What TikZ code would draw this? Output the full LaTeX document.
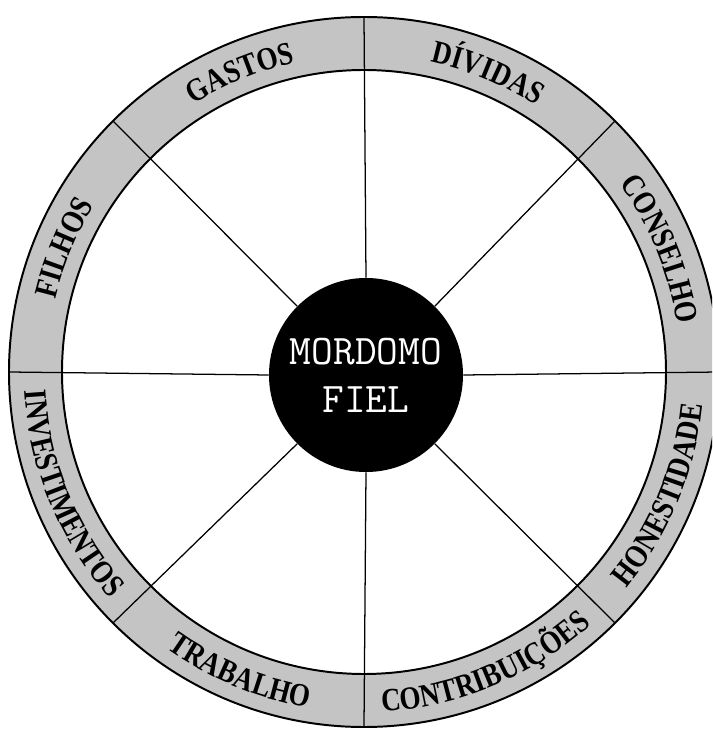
\documentclass[tikz,border=0pt]{standalone}
\usepackage{fontspec}
\usetikzlibrary{decorations.text}
\newfontfamily\ringserif[FakeStretch=0.84]{Liberation Serif}
\newcommand\ringfont{\ringserif\bfseries\fontsize{23}{23}\selectfont}
\definecolor{ringgray}{RGB}{196,196,196}
\tikzset{
  hub/.style={circle, fill=black, inner sep=0pt, minimum size=4.85cm, align=center, text=white, font=\fontsize{30}{34}\selectfont\ttfamily},
  spoke/.style={black, line width=0.9pt},
  rim/.style={draw=black, line width=1.4pt},
  ringlabel/.style={decorate, decoration={text along path, text align=center, text={|\ringfont|#1}}}
}

\begin{document}
\begin{tikzpicture}[x=0.025cm, y=0.025cm]
  \useasboundingbox (-364,-357) rectangle (348,372);
  \clip (-364,-357) rectangle (348,372);

  \fill[ringgray, even odd rule] (0,0) circle[radius=355] (0,0) circle[radius=302];
  \node[hub] (hub) at (2,-3) {MORDOMO\\FIEL};
  \foreach \a in {0,45,...,315}
    \draw[spoke] (hub.\a) -- (\a:355);
  \draw[rim] (0,0) circle[radius=355];
  \draw[rim] (0,0) circle[radius=302];

  \foreach \a/\word in {157.5/FILHOS, 112.5/GASTOS, 67.5/DÍVIDAS, 22.5/CONSELHO}
    \path[ringlabel/.expanded=\word] ({\a+40}:317) arc[start angle={\a+40}, end angle={\a-40}, radius=317];
  \foreach \a/\word in {-22.5/HONESTIDADE, -67.5/CONTRIBUIÇÕES, -112.5/TRABALHO, -157.5/INVESTIMENTOS}
    \path[ringlabel/.expanded=\word] ({\a-40}:340) arc[start angle={\a-40}, end angle={\a+40}, radius=340];
\end{tikzpicture}
\end{document}
